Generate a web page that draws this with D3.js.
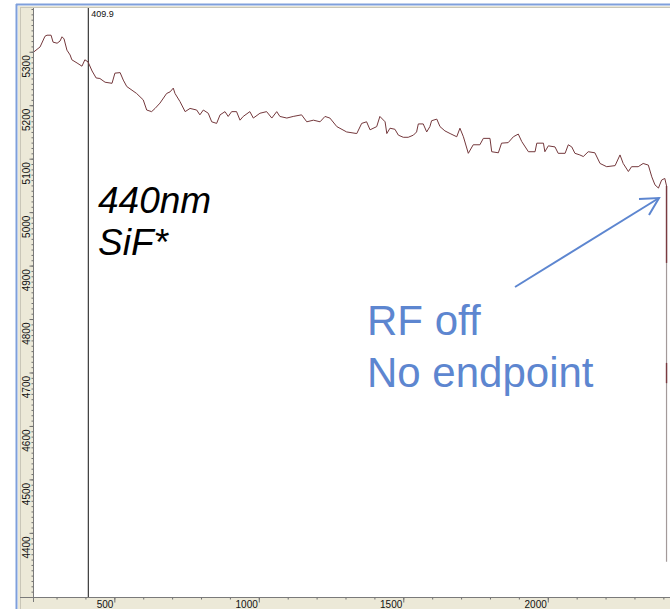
<!DOCTYPE html>
<html>
<head>
<meta charset="utf-8">
<script src="https://cdn.jsdelivr.net/npm/d3@7"></script>
<style>
  html, body { margin: 0; padding: 0; background: #ffffff; }
  svg { display: block; }
</style>
</head>
<body>
<svg id="chart" width="670" height="609"></svg>
<script>
// ---- data ----
const wavelengthX = [222,243,260,267,281,288,302,312,319,326,336,347,353,371,388,398,409,423,437,450,
  468,492,502,520,531,543,577,600,612,629,641,658,681,693,704,710,727,745,762,785,
  796,808,825,837,854,866,883,894,906,923,935,946,969,981,1004,1027,1045,1062,1073,1097,
  1119,1148,1166,1189,1212,1229,1246,1270,1304,1339,1356,1373,1385,1408,1419,1437,1443,1454,1471,1483,
  1500,1517,1535,1546,1552,1569,1581,1592,1598,1616,1627,1644,1662,1685,1696,1708,1725,1742,1765,1777,
  1800,1806,1829,1840,1863,1881,1898,1910,1933,1956,1962,1985,1990,2002,2025,2036,2060,2071,2083,2094,
  2111,2123,2140,2163,2181,2204,2233,2250,2261,2279,2290,2313,2330,2348,2360,2371,2383,2394,2405,2411];
const intensity = [5300,5309,5329,5331,5331,5318,5316,5320,5328,5324,5303,5294,5285,5279,5273,5285,5281,5264,5251,5250,
  5243,5241,5260,5261,5247,5235,5222,5210,5191,5188,5194,5204,5222,5225,5232,5222,5207,5188,5194,5191,
  5182,5191,5185,5169,5166,5182,5188,5179,5188,5188,5172,5179,5188,5176,5185,5188,5176,5188,5179,5176,
  5179,5182,5169,5172,5169,5179,5176,5160,5150,5147,5166,5169,5154,5160,5179,5169,5147,5157,5155,5144,
  5140,5140,5144,5150,5165,5165,5150,5160,5171,5174,5160,5152,5147,5141,5157,5141,5110,5126,5126,5138,
  5138,5113,5111,5129,5130,5141,5146,5132,5113,5113,5129,5129,5113,5124,5122,5110,5110,5126,5122,5110,
  5107,5104,5113,5111,5091,5085,5087,5107,5091,5076,5085,5085,5091,5088,5066,5051,5045,5060,5063,5049];
// RF off: signal drops vertically
const dropX = [2411, 2411];
const dropY = [5049, 4346];
const dropDarkSegments = [[5049, 4905], [4718, 4680]];

const cursorValue = 409.9;
const xMajorTicks = [500, 1000, 1500, 2000];
const xMinorTicks = [300,400,500,600,700,800,900,1000,1100,1200,1300,1400,1500,1600,1700,1800,1900,2000,2100,2200,2300,2400];
const yMajorTicks = [4400,4500,4600,4700,4800,4900,5000,5100,5200,5300];
const yMinorTicks = d3.range(4290, 5381, 10);

// ---- drawing ----
const svg = d3.select("#chart");
const L = 34, R = 670, T = 9, B = 597;
const x = d3.scaleLinear().domain([222, 2423]).range([L, R]);
const y = d3.scaleLinear().domain([4280, 5380]).range([B, T]);

// window frame
svg.append("rect").attr("x", 0).attr("y", 0).attr("width", 670).attr("height", 609).attr("fill", "#ffffff");
svg.append("rect").attr("x", 18).attr("y", 6).attr("width", 652).attr("height", 603).attr("fill", "#ece9d8");
svg.append("rect").attr("x", L - 1).attr("y", T - 1).attr("width", R - L + 1).attr("height", B - T + 1).attr("fill", "#ffffff");
svg.append("line").attr("x1", 16.5).attr("x2", 16.5).attr("y1", 4).attr("y2", 609).attr("stroke", "#7f9fdb").attr("stroke-width", 2);
svg.append("line").attr("x1", 16).attr("x2", 670).attr("y1", 4.5).attr("y2", 4.5).attr("stroke", "#7f9fdb").attr("stroke-width", 2);
svg.append("line").attr("x1", 20.5).attr("x2", 20.5).attr("y1", 7).attr("y2", 609).attr("stroke", "#c9c6b8").attr("stroke-width", 1);
svg.append("line").attr("x1", 20).attr("x2", 670).attr("y1", 7.5).attr("y2", 7.5).attr("stroke", "#c9c6b8").attr("stroke-width", 1);

// axes
const tickFont = "'Liberation Sans Narrow', 'Liberation Sans', Arial, sans-serif";
const yMinorAxis = d3.axisLeft(y).tickValues(yMinorTicks).tickSize(2).tickFormat("");
const yMajorAxis = d3.axisLeft(y).tickValues(yMajorTicks).tickSize(4).tickFormat(d3.format("d"));
const gyMinor = svg.append("g").attr("transform", `translate(${L - 0.5},0)`).call(yMinorAxis);
const gyMajor = svg.append("g").attr("transform", `translate(${L - 0.5},0)`).call(yMajorAxis);
[gyMinor, gyMajor].forEach(g => {
  g.select(".domain").remove();
  g.selectAll(".tick line").attr("stroke", "#6f6f6f");
});
gyMajor.selectAll(".tick text")
  .attr("x", null).attr("dy", null)
  .attr("transform", "translate(-3.5,3) rotate(-90)")
  .attr("text-anchor", "end")
  .attr("font-family", tickFont).attr("font-size", 10).attr("fill", "#111");
svg.append("line").attr("x1", L - 0.5).attr("x2", L - 0.5).attr("y1", T - 1).attr("y2", B + 5)
  .attr("stroke", "#7a7a7a");

const xMinorAxis = d3.axisBottom(x).tickValues(xMinorTicks).tickSize(2).tickFormat("");
const xMajorAxis = d3.axisBottom(x).tickValues(xMajorTicks).tickSize(5).tickFormat(d3.format("d"));
const gxMinor = svg.append("g").attr("transform", `translate(0,${B + 0.5})`).call(xMinorAxis);
const gxMajor = svg.append("g").attr("transform", `translate(0,${B + 0.5})`).call(xMajorAxis);
[gxMinor, gxMajor].forEach(g => {
  g.select(".domain").remove();
  g.selectAll(".tick line").attr("stroke", "#6f6f6f");
});
gxMajor.selectAll(".tick text")
  .attr("x", -1.5).attr("y", 10).attr("dy", null)
  .attr("text-anchor", "end")
  .attr("font-family", tickFont).attr("font-size", 10).attr("fill", "#111");
svg.append("line").attr("x1", 20).attr("x2", R).attr("y1", B + 0.5).attr("y2", B + 0.5)
  .attr("stroke", "#7a7a7a");

// cursor line
svg.append("line")
  .attr("x1", x(cursorValue)).attr("x2", x(cursorValue))
  .attr("y1", T - 1).attr("y2", B)
  .attr("stroke", "#111").attr("stroke-width", 1);
svg.append("text").attr("x", x(cursorValue) + 3).attr("y", 17)
  .attr("font-family", tickFont).attr("font-size", 9).attr("fill", "#111")
  .text(d3.format(".1f")(cursorValue));

// signal line
const pts = wavelengthX.map((v, i) => [v, intensity[i]]);
const line = d3.line().x(d => x(d[0])).y(d => y(d[1]));
svg.append("path").datum(pts).attr("d", line)
  .attr("fill", "none").attr("stroke", "#74383c").attr("stroke-width", 1).attr("stroke-linejoin", "round");

svg.append("path").datum(dropX.map((v, i) => [v, dropY[i]])).attr("d", line)
  .attr("fill", "none").attr("stroke", "#a39a9a").attr("stroke-width", 1.2);
dropDarkSegments.forEach(s => {
  svg.append("path").datum([[dropX[0], s[0]], [dropX[0], s[1]]]).attr("d", line)
    .attr("fill", "none").attr("stroke", "#7a3a40").attr("stroke-width", 1.4);
});

// annotations
const annFont = "'Liberation Sans', Arial, sans-serif";
const blue = "#5d86d0";
svg.append("text").attr("x", 98).attr("y", 213).attr("font-family", annFont).attr("font-size", 37)
  .attr("font-style", "italic").attr("fill", "#000").text("440nm");
svg.append("text").attr("x", 98).attr("y", 255).attr("font-family", annFont).attr("font-size", 37)
  .attr("font-style", "italic").attr("fill", "#000").text("SiF*");
svg.append("text").attr("x", 367).attr("y", 335).attr("font-family", annFont).attr("font-size", 42)
  .attr("fill", blue).text("RF off");
svg.append("text").attr("x", 367).attr("y", 387).attr("font-family", annFont).attr("font-size", 42)
  .attr("fill", blue).text("No endpoint");

// arrow
svg.append("line").attr("x1", 515).attr("y1", 287).attr("x2", 659).attr("y2", 198)
  .attr("stroke", blue).attr("stroke-width", 2);
svg.append("path").attr("d", "M639,199 L659,198 L649,215")
  .attr("fill", "none").attr("stroke", blue).attr("stroke-width", 2).attr("stroke-linejoin", "miter");
</script>
</body>
</html>
